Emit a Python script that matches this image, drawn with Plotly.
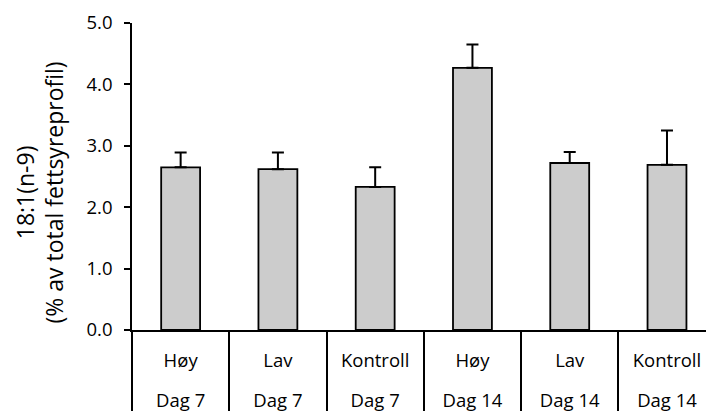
import plotly.graph_objects as go

groups = ["Høy", "Lav", "Kontroll", "Høy", "Lav", "Kontroll"]
days = ["Dag 7", "Dag 7", "Dag 7", "Dag 14", "Dag 14", "Dag 14"]
values = [2.65, 2.62, 2.33, 4.27, 2.72, 2.69]
errors = [0.24, 0.27, 0.32, 0.38, 0.18, 0.56]
y_ticks = [0, 1, 2, 3, 4, 5]
y_tick_labels = ["0.0", "1.0", "2.0", "3.0", "4.0", "5.0"]

cats = [f"{g}|{d}|{i}" for i, (g, d) in enumerate(zip(groups, days))]
FONT = "Open Sans"
TICK_SIZE = 18.5

fig = go.Figure()
fig.add_trace(go.Bar(
    x=cats, y=values, width=0.4,
    marker=dict(color="#cccccc", line=dict(color="black", width=1.8)),
    error_y=dict(type="data", array=errors, arrayminus=[0] * len(errors),
                 symmetric=False, color="black", thickness=2, width=6),
    xaxis="x", yaxis="y", showlegend=False, hoverinfo="skip",
))
# invisible helper traces for overlay axes
for ax in ["x2", "x3"]:
    fig.add_trace(go.Scatter(x=cats, y=values, mode="markers",
                             marker=dict(opacity=0), xaxis=ax, yaxis="y",
                             showlegend=False, hoverinfo="skip"))

xrange = [-0.5, 5.401]
fig.update_layout(
    width=706, height=412,
    margin=dict(l=132, r=0, t=23, b=80),
    plot_bgcolor="white", paper_bgcolor="white",
    font=dict(family=FONT, size=TICK_SIZE, color="black"),
    xaxis=dict(type="category", categoryorder="array", categoryarray=cats,
               range=xrange, tickvals=cats, ticktext=groups,
               ticks="", showline=True, linecolor="black", linewidth=1.6,
               showgrid=False, zeroline=False, ticklabelstandoff=13,
               tickfont=dict(size=TICK_SIZE)),
    xaxis2=dict(type="category", categoryorder="array", categoryarray=cats,
                overlaying="x", anchor="y", side="bottom",
                range=xrange, tickvals=cats, ticktext=days,
                ticks="", showline=False, showgrid=False, zeroline=False,
                ticklabelstandoff=57, tickfont=dict(size=TICK_SIZE)),
    xaxis3=dict(type="category", categoryorder="array", categoryarray=cats,
                overlaying="x", anchor="y", side="bottom",
                range=xrange, tickson="boundaries", ticks="outside",
                ticklen=80, tickwidth=1.6, tickcolor="black",
                showticklabels=False, showline=False, showgrid=False,
                zeroline=False),
    yaxis=dict(range=[0, 5], tickvals=y_ticks, ticktext=y_tick_labels,
               ticks="outside", ticklen=6, tickwidth=1.6, tickcolor="black",
               showline=True, linecolor="black", linewidth=1.6,
               showgrid=False, zeroline=False, ticklabelstandoff=8,
               tickfont=dict(size=TICK_SIZE)),
    annotations=[dict(
        text="18:1(n-9)<br>(% av total fettsyreprofil)",
        xref="paper", yref="paper", x=-0.1603, y=0.448,
        xanchor="center", yanchor="middle", textangle=-90,
        showarrow=False, font=dict(family=FONT, size=23, color="black"),
    )],
)

fig.write_html(
    "out.html",
    config={"displayModeBar": False},
    post_script="document.body.style.margin='0';document.body.style.overflow='hidden';",
)
